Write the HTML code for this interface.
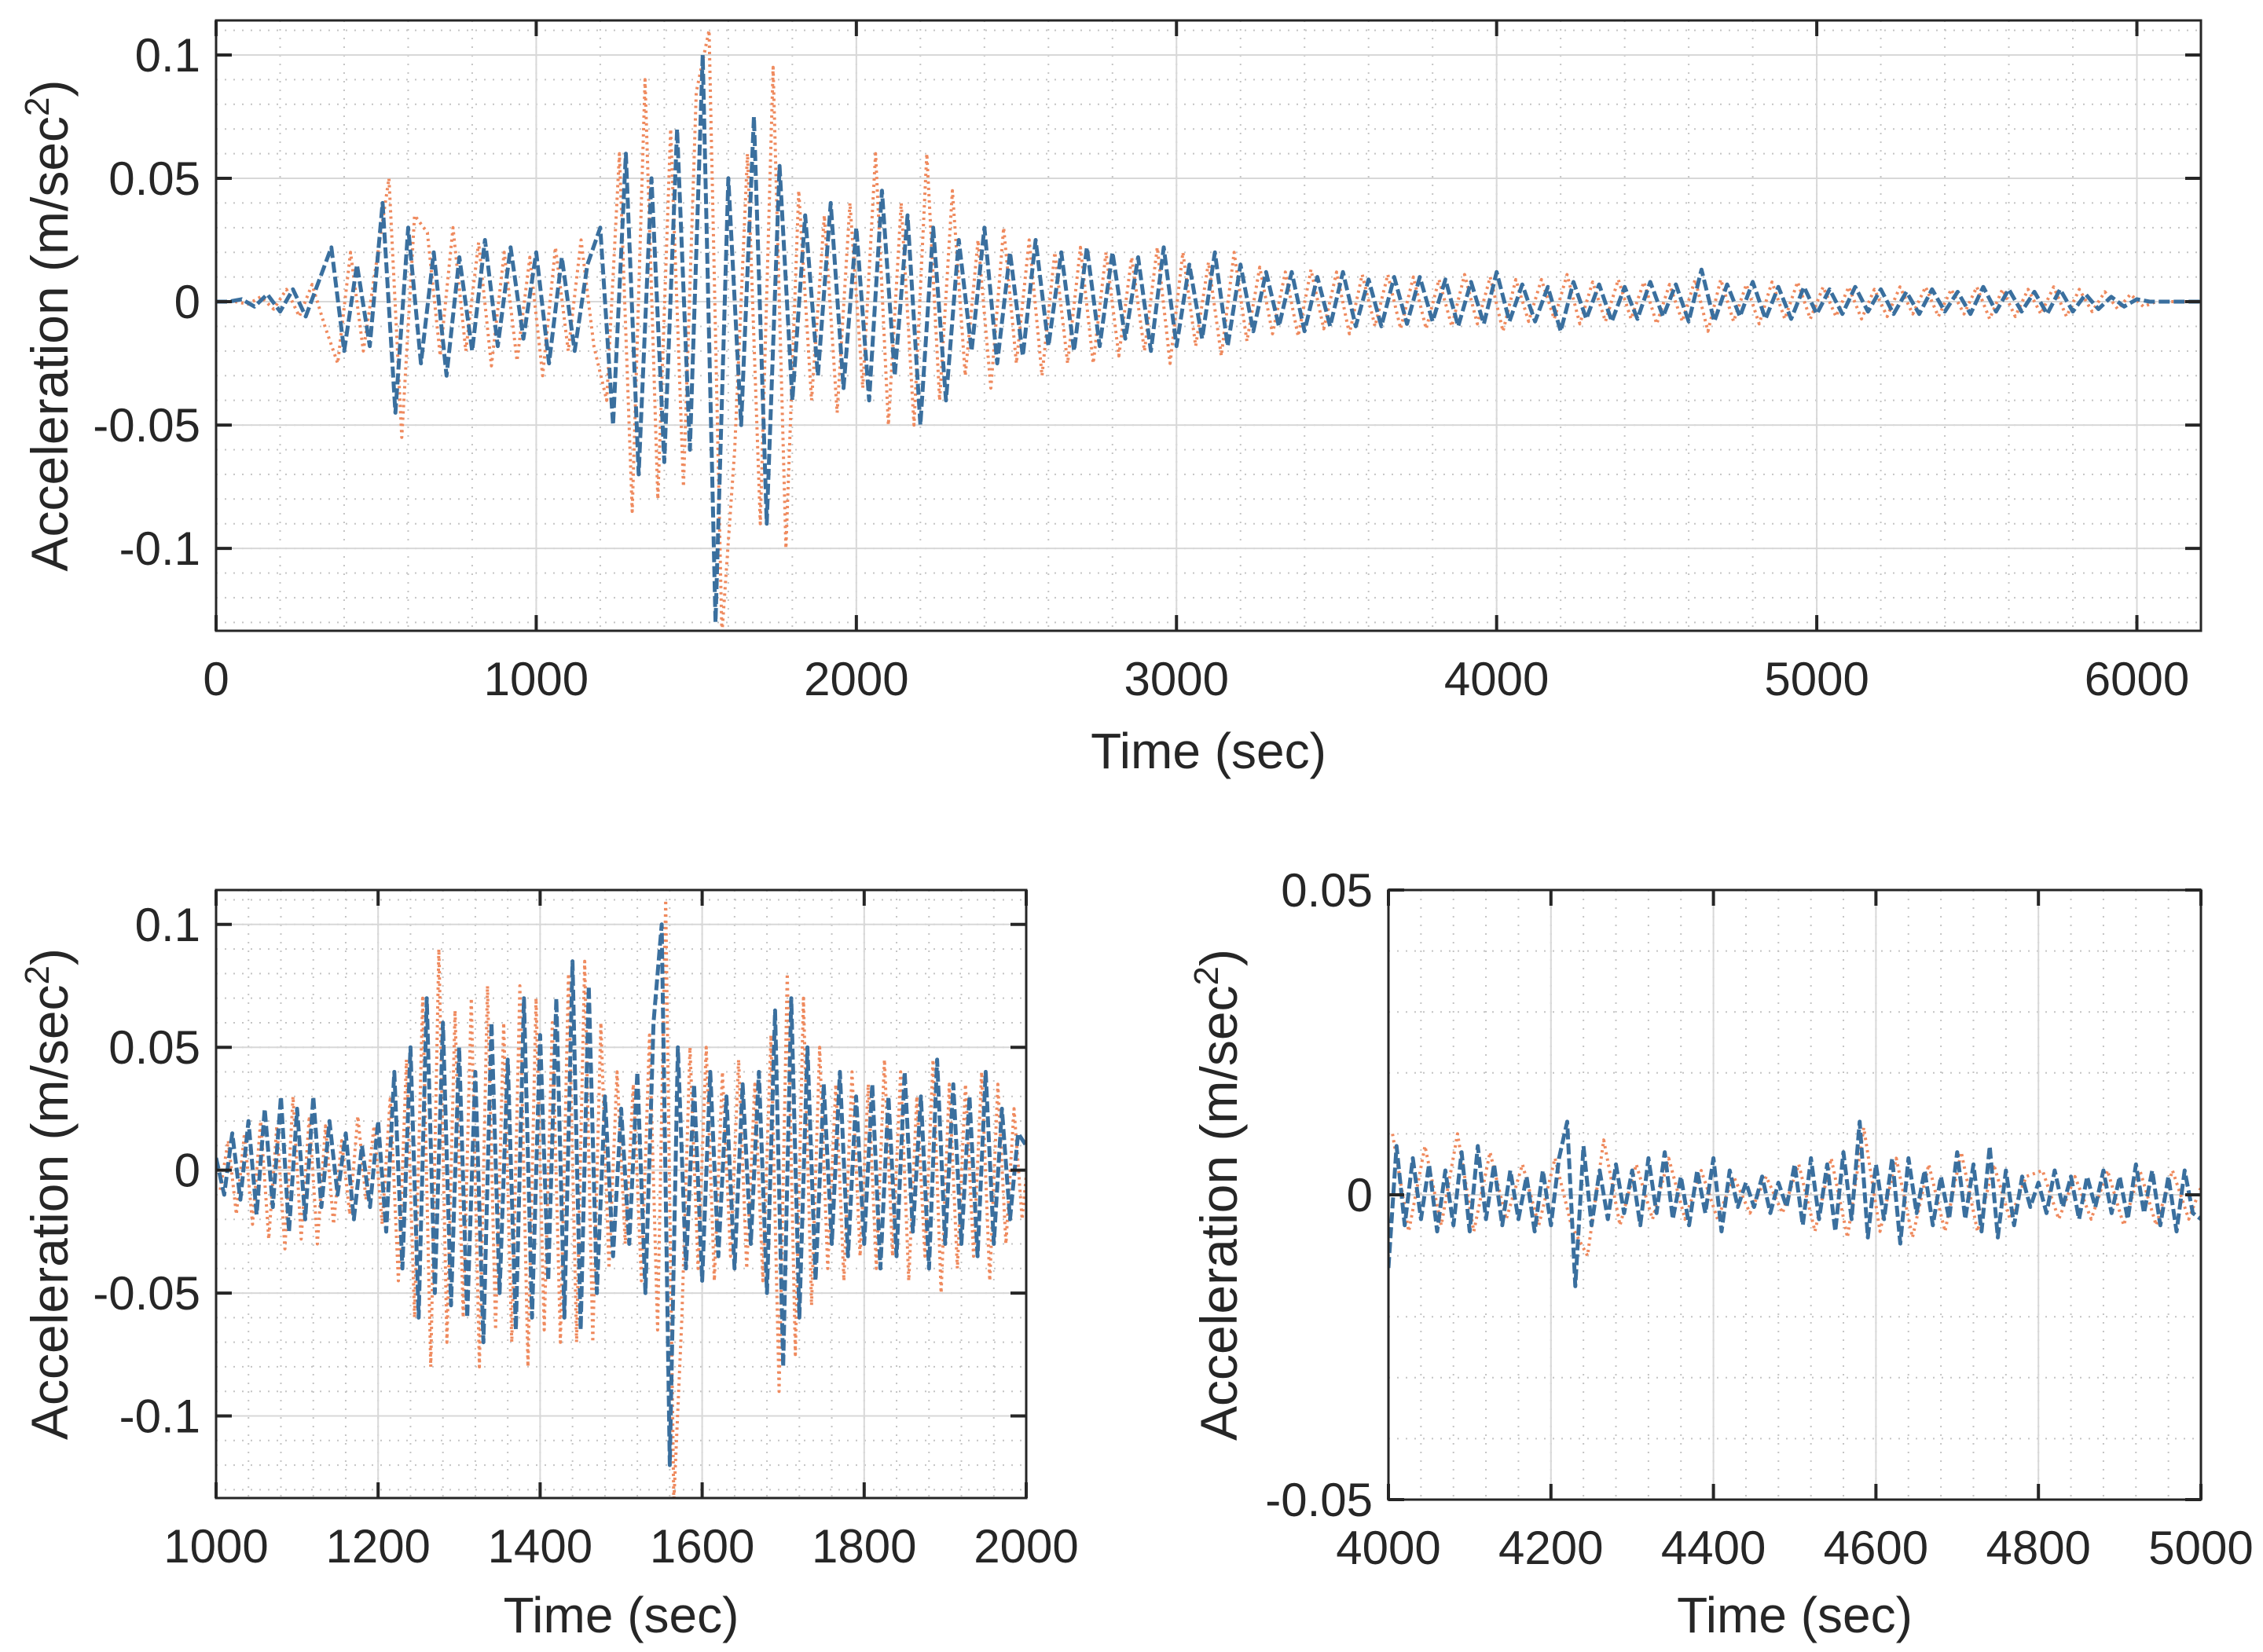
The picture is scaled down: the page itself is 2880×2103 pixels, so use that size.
<!DOCTYPE html>
<html><head><meta charset="utf-8"><style>
html,body{margin:0;padding:0;background:#fff;}
svg{display:block;font-family:"Liberation Sans",Arial,sans-serif;}
</style></head><body>
<svg id="fig" width="2880" height="2103" viewBox="0 0 2880 2103" xmlns="http://www.w3.org/2000/svg"></svg>
<script>
// ---------- data ----------
const topStep = 40;
const topBlue = [0,0,0.001,-0.002,0.003,
-0.004,0.005,-0.006,0.008,
0.022,-0.02,0.015,-0.018,
0.04,-0.045,0.03,
-0.025,0.02,-0.03,0.018,-0.02,0.025,-0.018,0.022,-0.015,0.02,-0.025,0.018,-0.02,0.015,
0.03,-0.05,0.06,-0.07,0.05,-0.065,0.07,-0.06,0.1,-0.13,
0.05,-0.05,0.075,-0.09,0.055,
-0.04,0.035,-0.03,0.04,-0.035,0.03,-0.04,0.045,-0.03,0.035,-0.05,0.03,-0.04,
0.025,-0.02,0.03,-0.025,0.02,-0.022,0.025,-0.018,0.02,-0.02,0.022,-0.018,0.02,-0.015,0.018,-0.02,0.022,-0.018,0.015,-0.015,0.02,-0.018,0.015,
-0.012,0.012,-0.01,0.012,-0.012,0.01,-0.01,0.012,-0.01,0.009,-0.01,0.01,-0.009,0.01,-0.008,0.009,-0.01,0.008,-0.009,0.012,
-0.008,0.007,-0.008,0.006,-0.012,0.008,-0.007,0.007,-0.008,0.006,-0.007,0.008,-0.006,0.007,-0.008,0.013,-0.008,0.007,-0.006,0.008,-0.007,0.006,-0.007,0.006,-0.005,
0.005,-0.005,0.006,-0.004,0.005,-0.005,0.004,-0.005,0.005,-0.004,0.004,-0.005,0.006,-0.004,0.005,-0.004,0.004,-0.005,0.005,-0.004,0.003,-0.003,0.002,-0.002,0.001,
0,0,0,0,0];
const topOrange = [0,0,-0.001,0.002,-0.003,
0.005,-0.006,0.007,-0.01,
-0.025,0.02,-0.02,0.015,
0.05,-0.055,0.035,
0.028,-0.022,0.03,-0.02,0.024,-0.026,0.02,-0.024,0.018,-0.03,0.022,-0.02,0.025,-0.018,
-0.04,0.06,-0.085,0.09,-0.08,0.07,-0.075,0.085,0.11,-0.135,
-0.06,0.06,-0.09,0.095,-0.1,
0.045,-0.04,0.035,-0.045,0.04,-0.035,0.06,-0.05,0.04,-0.05,0.06,-0.04,0.045,
-0.03,0.025,-0.035,0.03,-0.025,0.025,-0.03,0.02,-0.025,0.022,-0.025,0.02,-0.022,0.018,-0.02,0.022,-0.025,0.02,-0.018,0.016,-0.022,0.02,-0.016,
0.014,-0.013,0.012,-0.014,0.013,-0.011,0.012,-0.013,0.011,-0.01,0.011,-0.011,0.01,-0.011,0.009,-0.01,0.011,-0.009,0.01,-0.012,
0.009,-0.008,0.009,-0.007,0.011,-0.009,0.008,-0.008,0.009,-0.007,0.008,-0.009,0.007,-0.008,0.009,-0.012,0.009,-0.008,0.007,-0.009,0.008,-0.007,0.008,-0.007,0.006,
-0.006,0.006,-0.007,0.005,-0.006,0.006,-0.005,0.006,-0.006,0.005,-0.005,0.006,-0.007,0.005,-0.006,0.005,-0.005,0.006,-0.006,0.005,-0.004,0.004,-0.003,0.003,-0.002,
0,0,0,0,0];
const blStep = 10;
const blBlue = [0.005,-0.01,0.015,-0.012,0.02,-0.018,0.025,-0.015,0.03,-0.025,
0.025,-0.02,0.03,-0.015,0.02,-0.01,0.015,-0.02,0.01,-0.015,
0.02,-0.025,0.04,-0.04,0.05,-0.06,0.07,-0.05,0.06,-0.055,
0.05,-0.06,0.04,-0.07,0.06,-0.05,0.045,-0.065,0.07,-0.06,
0.055,-0.045,0.07,-0.06,0.085,-0.065,0.075,-0.05,0.03,-0.035,
0.025,-0.03,0.04,-0.05,0.06,0.1,-0.12,0.05,-0.04,0.035,
-0.045,0.04,-0.035,0.03,-0.04,0.035,-0.03,0.04,-0.05,0.065,
-0.08,0.07,-0.06,0.05,-0.045,0.035,-0.03,0.04,-0.035,0.03,
-0.03,0.035,-0.04,0.03,-0.035,0.04,-0.025,0.03,-0.04,0.045,
-0.03,0.035,-0.03,0.03,-0.035,0.04,-0.03,0.025,-0.02,0.015,0.01];
const blOrange = [-0.008,0.012,-0.018,0.015,-0.022,0.02,-0.028,0.018,-0.032,0.03,
-0.028,0.022,-0.03,0.018,-0.022,0.012,-0.018,0.022,-0.012,0.018,
-0.022,0.03,-0.045,0.045,-0.06,0.07,-0.08,0.09,-0.07,0.065,
-0.06,0.07,-0.08,0.075,-0.065,0.06,-0.07,0.075,-0.08,0.07,
-0.065,0.06,-0.07,0.08,-0.07,0.085,-0.07,0.06,-0.04,0.04,
-0.03,0.035,-0.045,0.055,-0.065,0.11,-0.135,-0.06,0.05,-0.04,
0.05,-0.045,0.04,-0.035,0.045,-0.04,0.035,-0.045,0.055,-0.09,
0.08,-0.075,0.07,-0.055,0.05,-0.04,0.035,-0.045,0.04,-0.035,
0.035,-0.04,0.045,-0.035,0.04,-0.045,0.03,-0.035,0.045,-0.05,
0.035,-0.04,0.035,-0.035,0.04,-0.045,0.035,-0.03,0.025,-0.02,0.015];
const brStep = 10;
const brBlue = [-0.012,0.008,-0.005,0.006,-0.004,0.005,-0.006,0.004,-0.005,0.007,
-0.006,0.008,-0.004,0.005,-0.005,0.004,-0.004,0.003,-0.006,0.004,
-0.005,0.006,0.012,-0.015,0.008,-0.005,0.004,-0.004,0.005,-0.003,
0.004,-0.005,0.006,-0.003,0.007,-0.004,0.003,-0.005,0.004,-0.003,
0.006,-0.006,0.004,-0.002,0.002,-0.002,0.003,-0.003,0.002,-0.002,
0.005,-0.005,0.006,-0.004,0.005,-0.006,0.007,-0.004,0.012,-0.007,
0.005,-0.004,0.006,-0.008,0.006,-0.003,0.004,-0.005,0.003,-0.004,
0.007,-0.004,0.005,-0.006,0.008,-0.007,0.004,-0.005,0.003,-0.002,
0.002,-0.003,0.004,-0.002,0.003,-0.004,0.003,-0.002,0.004,-0.003,
0.003,-0.004,0.005,-0.003,0.004,-0.005,0.003,-0.006,0.004,-0.003,-0.004];
const brOrangeStep = 20;
const brOrange = [0.01,-0.006,0.008,-0.005,0.01,-0.006,0.007,-0.004,0.005,-0.005,
0.006,-0.005,-0.01,0.009,-0.005,0.005,-0.004,0.006,-0.004,0.004,
-0.004,0.003,-0.003,0.003,-0.003,0.005,-0.006,0.006,-0.007,0.011,
-0.006,0.006,-0.007,0.005,-0.006,0.007,-0.006,0.005,-0.004,0.003,
0.004,-0.004,0.003,-0.004,0.004,-0.005,0.004,-0.005,0.004,-0.004,0.003];
const topXTicks = [0,1000,2000,3000,4000,5000,6000];
const topXLabels = ["0","1000","2000","3000","4000","5000","6000"];
const fullYTicks = [-0.1,-0.05,0,0.05,0.1];
const fullYLabels = ["-0.1","-0.05","0","0.05","0.1"];
const blXTicks = [1000,1200,1400,1600,1800,2000];
const blXLabels = ["1000","1200","1400","1600","1800","2000"];
const brXTicks = [4000,4200,4400,4600,4800,5000];
const brXLabels = ["4000","4200","4400","4600","4800","5000"];
const brYTicks = [-0.05,0,0.05];
const brYLabels = ["-0.05","0","0.05"];

// ---------- drawing ----------
const NS = "http://www.w3.org/2000/svg";
const svg = document.getElementById("fig");
function mk(tag, attrs, parent){
  const e = document.createElementNS(NS, tag);
  for (const k in attrs) e.setAttribute(k, attrs[k]);
  (parent||svg).appendChild(e);
  return e;
}
function panel(cfg){
  const g = mk("g", {});
  
  
  const {L,R,T,B,x0,x1,y0,y1} = cfg;
  const sx = v => L + (v - x0) / (x1 - x0) * (R - L);
  const sy = v => B - (v - y0) / (y1 - y0) * (B - T);
  mk("rect", {x:L,y:T,width:R-L,height:B-T,fill:"#fff"}, g);
  const xm = cfg.xMinor, ym = cfg.yMinor;
  for (let v = Math.ceil(x0/xm)*xm; v <= x1+1e-9; v += xm){
    const l = mk("line",{x1:sx(v),x2:sx(v),y1:T,y2:B,stroke:"#c4c4c4","stroke-width":2,"stroke-dasharray":"2 9"}, g);
    
    
  }
  for (let v = Math.ceil(y0/ym-1e-9)*ym; v <= y1+1e-9; v += ym){
    const l = mk("line",{x1:L,x2:R,y1:sy(v),y2:sy(v),stroke:"#c4c4c4","stroke-width":2,"stroke-dasharray":"2 9"}, g);
    
    
  }
  cfg.xTicks.forEach(v => {
    const l = mk("line",{x1:sx(v),x2:sx(v),y1:T,y2:B,stroke:"#d8d8d8","stroke-width":2}, g);
    
    
  });
  cfg.yTicks.forEach(v => {
    const l = mk("line",{x1:L,x2:R,y1:sy(v),y2:sy(v),stroke:"#d8d8d8","stroke-width":2}, g);
    
    
  });
  const clipId = "clip-" + cfg.name;
  const cp = mk("clipPath",{id:clipId}, g);
  mk("rect",{x:L,y:T,width:R-L,height:B-T}, cp);
  cfg.series.forEach(s => {
    let d = "";
    s.vals.forEach((v,i) => {
      const t = s.start + i * s.step;
      d += (i ? "L" : "M") + sx(t).toFixed(1) + "," + sy(v).toFixed(1);
    });
    const p = mk("path",{d:d,fill:"none",stroke:s.color,"stroke-width":s.w,"stroke-dasharray":s.dash,"clip-path":"url(#"+clipId+")","stroke-linejoin":"round"}, g);
    
    
  });
  const bx = mk("rect",{x:L,y:T,width:R-L,height:B-T,fill:"none",stroke:"#262626","stroke-width":3}, g);
  
  
  cfg.xTicks.forEach((v,i) => {
    mk("line",{x1:sx(v),x2:sx(v),y1:B,y2:B-20,stroke:"#262626","stroke-width":4}, g);
    mk("line",{x1:sx(v),x2:sx(v),y1:T,y2:T+20,stroke:"#262626","stroke-width":4}, g);
    const t = mk("text",{x:sx(v),y:B+82,"font-size":60,"text-anchor":"middle",fill:"#262626"}, g);
    t.textContent = cfg.xLabels[i];
    
    
  });
  cfg.yTicks.forEach((v,i) => {
    mk("line",{x1:L,x2:L+20,y1:sy(v),y2:sy(v),stroke:"#262626","stroke-width":4}, g);
    mk("line",{x1:R,x2:R-20,y1:sy(v),y2:sy(v),stroke:"#262626","stroke-width":4}, g);
    const t = mk("text",{x:L-20,y:sy(v)+21,"font-size":60,"text-anchor":"end",fill:"#262626"}, g);
    t.textContent = cfg.yLabels[i];
    
    
  });
  const xt = mk("text",{x:(L+R)/2,y:cfg.xTitleY,"font-size":64,"text-anchor":"middle",fill:"#262626"}, g);
  xt.textContent = "Time (sec)";
  
  
  const yt = mk("text",{x:0,y:0,"font-size":66,"text-anchor":"middle",fill:"#262626",transform:"translate("+cfg.yTitleX+","+((T+B)/2)+") rotate(-90)"}, g);
  yt.innerHTML = 'Acceleration (m/sec<tspan dy="-24" font-size="44">2</tspan><tspan dy="24">)</tspan>';
  
  
}
const BLUE = "#3a6f9e", ORANGE = "#ef8a5e";
panel({name:"top-panel",L:275,R:2801,T:26,B:803,x0:0,x1:6200,y0:-0.1334,y1:0.114,xMinor:200,yMinor:0.01,
  xTicks:topXTicks,xLabels:topXLabels,yTicks:fullYTicks,yLabels:fullYLabels,xTitleY:978,yTitleX:86,
  series:[{name:"series-orange-dotted",vals:topOrange,start:20,step:topStep,color:ORANGE,w:4,dash:"3 5"},
          {name:"series-blue-dashed",vals:topBlue,start:0,step:topStep,color:BLUE,w:5,dash:"14 5"}]});
panel({name:"zoom-panel-1000-2000",L:275,R:1306,T:1133,B:1907,x0:1000,x1:2000,y0:-0.1334,y1:0.114,xMinor:40,yMinor:0.01,
  xTicks:blXTicks,xLabels:blXLabels,yTicks:fullYTicks,yLabels:fullYLabels,xTitleY:2078,yTitleX:86,
  series:[{name:"series-orange-dotted",vals:blOrange,start:1005,step:blStep,color:ORANGE,w:4,dash:"3 5"},
          {name:"series-blue-dashed",vals:blBlue,start:1000,step:blStep,color:BLUE,w:5,dash:"14 5"}]});
panel({name:"zoom-panel-4000-5000",L:1767,R:2801,T:1133,B:1909,x0:4000,x1:5000,y0:-0.05,y1:0.05,xMinor:40,yMinor:0.01,
  xTicks:brXTicks,xLabels:brXLabels,yTicks:brYTicks,yLabels:brYLabels,xTitleY:2078,yTitleX:1574,
  series:[{name:"series-orange-dotted",vals:brOrange,start:4005,step:brOrangeStep,color:ORANGE,w:4,dash:"3 5"},
          {name:"series-blue-dashed",vals:brBlue,start:4000,step:brStep,color:BLUE,w:5,dash:"14 5"}]});
</script>
</body></html>
